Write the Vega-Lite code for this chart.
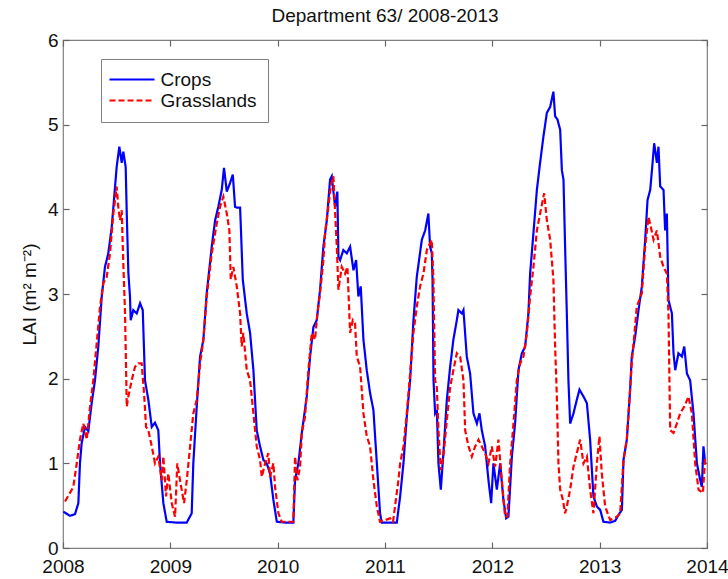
{
  "$schema": "https://vega.github.io/schema/vega-lite/v6.json",
  "width": 644,
  "height": 508,
  "autosize": "none",
  "padding": {"left": 63, "top": 40, "right": 21, "bottom": 31},
  "background": "white",
  "title": {"text": "Department 63/ 2008-2013", "fontSize": 19, "fontWeight": "normal", "font": "Liberation Sans", "color": "#111", "anchor": "middle", "offset": 5},
  "config": {
    "view": {"stroke": "#808080", "strokeWidth": 1.2},
    "axis": {"domain": false, "grid": false, "labelFont": "Liberation Sans", "labelFontSize": 19, "labelColor": "#111", "titleFont": "Liberation Sans", "titleFontSize": 19, "titleFontWeight": "normal", "titleColor": "#111"},
    "legend": {"labelFont": "Liberation Sans", "labelFontSize": 19, "labelColor": "#111"}
  },
  "data": {"values": [
    {"t":2008.003,"v":0.43,"s":"Crops"},{"t":2008.065,"v":0.38,"s":"Crops"},{"t":2008.112,"v":0.40,"s":"Crops"},{"t":2008.143,"v":0.53,"s":"Crops"},{"t":2008.158,"v":1.0,"s":"Crops"},{"t":2008.174,"v":1.24,"s":"Crops"},{"t":2008.205,"v":1.43,"s":"Crops"},{"t":2008.236,"v":1.38,"s":"Crops"},{"t":2008.267,"v":1.71,"s":"Crops"},{"t":2008.298,"v":1.98,"s":"Crops"},{"t":2008.329,"v":2.38,"s":"Crops"},{"t":2008.361,"v":2.97,"s":"Crops"},{"t":2008.391,"v":3.32,"s":"Crops"},{"t":2008.422,"v":3.48,"s":"Crops"},{"t":2008.454,"v":3.79,"s":"Crops"},{"t":2008.485,"v":4.27,"s":"Crops"},{"t":2008.500,"v":4.50,"s":"Crops"},{"t":2008.525,"v":4.74,"s":"Crops"},{"t":2008.547,"v":4.55,"s":"Crops"},{"t":2008.562,"v":4.68,"s":"Crops"},{"t":2008.584,"v":4.50,"s":"Crops"},{"t":2008.594,"v":3.95,"s":"Crops"},{"t":2008.609,"v":3.25,"s":"Crops"},{"t":2008.624,"v":2.97,"s":"Crops"},{"t":2008.631,"v":2.69,"s":"Crops"},{"t":2008.655,"v":2.81,"s":"Crops"},{"t":2008.687,"v":2.77,"s":"Crops"},{"t":2008.718,"v":2.89,"s":"Crops"},{"t":2008.743,"v":2.81,"s":"Crops"},{"t":2008.764,"v":1.98,"s":"Crops"},{"t":2008.795,"v":1.75,"s":"Crops"},{"t":2008.827,"v":1.43,"s":"Crops"},{"t":2008.857,"v":1.48,"s":"Crops"},{"t":2008.888,"v":1.39,"s":"Crops"},{"t":2008.904,"v":1.0,"s":"Crops"},{"t":2008.935,"v":0.53,"s":"Crops"},{"t":2008.966,"v":0.31,"s":"Crops"},{"t":2009.053,"v":0.30,"s":"Crops"},{"t":2009.153,"v":0.30,"s":"Crops"},{"t":2009.199,"v":0.41,"s":"Crops"},{"t":2009.214,"v":1.0,"s":"Crops"},{"t":2009.246,"v":1.67,"s":"Crops"},{"t":2009.277,"v":2.26,"s":"Crops"},{"t":2009.308,"v":2.46,"s":"Crops"},{"t":2009.339,"v":3.01,"s":"Crops"},{"t":2009.386,"v":3.56,"s":"Crops"},{"t":2009.417,"v":3.87,"s":"Crops"},{"t":2009.447,"v":4.03,"s":"Crops"},{"t":2009.479,"v":4.23,"s":"Crops"},{"t":2009.500,"v":4.49,"s":"Crops"},{"t":2009.526,"v":4.21,"s":"Crops"},{"t":2009.556,"v":4.31,"s":"Crops"},{"t":2009.582,"v":4.41,"s":"Crops"},{"t":2009.603,"v":4.03,"s":"Crops"},{"t":2009.619,"v":4.02,"s":"Crops"},{"t":2009.650,"v":4.02,"s":"Crops"},{"t":2009.657,"v":3.79,"s":"Crops"},{"t":2009.675,"v":3.17,"s":"Crops"},{"t":2009.712,"v":2.77,"s":"Crops"},{"t":2009.743,"v":2.54,"s":"Crops"},{"t":2009.774,"v":2.10,"s":"Crops"},{"t":2009.805,"v":1.39,"s":"Crops"},{"t":2009.836,"v":1.20,"s":"Crops"},{"t":2009.867,"v":1.04,"s":"Crops"},{"t":2009.898,"v":1.0,"s":"Crops"},{"t":2009.929,"v":0.88,"s":"Crops"},{"t":2009.960,"v":0.57,"s":"Crops"},{"t":2009.992,"v":0.31,"s":"Crops"},{"t":2010.069,"v":0.30,"s":"Crops"},{"t":2010.146,"v":0.30,"s":"Crops"},{"t":2010.162,"v":0.80,"s":"Crops"},{"t":2010.193,"v":1.0,"s":"Crops"},{"t":2010.225,"v":1.36,"s":"Crops"},{"t":2010.271,"v":1.79,"s":"Crops"},{"t":2010.302,"v":2.26,"s":"Crops"},{"t":2010.333,"v":2.61,"s":"Crops"},{"t":2010.364,"v":2.69,"s":"Crops"},{"t":2010.395,"v":3.05,"s":"Crops"},{"t":2010.426,"v":3.56,"s":"Crops"},{"t":2010.458,"v":3.87,"s":"Crops"},{"t":2010.488,"v":4.35,"s":"Crops"},{"t":2010.504,"v":4.39,"s":"Crops"},{"t":2010.535,"v":4.03,"s":"Crops"},{"t":2010.556,"v":4.21,"s":"Crops"},{"t":2010.566,"v":3.44,"s":"Crops"},{"t":2010.582,"v":3.40,"s":"Crops"},{"t":2010.612,"v":3.52,"s":"Crops"},{"t":2010.644,"v":3.48,"s":"Crops"},{"t":2010.675,"v":3.56,"s":"Crops"},{"t":2010.706,"v":3.28,"s":"Crops"},{"t":2010.731,"v":3.40,"s":"Crops"},{"t":2010.752,"v":2.97,"s":"Crops"},{"t":2010.774,"v":3.09,"s":"Crops"},{"t":2010.799,"v":2.46,"s":"Crops"},{"t":2010.830,"v":2.10,"s":"Crops"},{"t":2010.861,"v":1.83,"s":"Crops"},{"t":2010.892,"v":1.63,"s":"Crops"},{"t":2010.924,"v":1.0,"s":"Crops"},{"t":2010.954,"v":0.41,"s":"Crops"},{"t":2010.970,"v":0.30,"s":"Crops"},{"t":2011.048,"v":0.30,"s":"Crops"},{"t":2011.110,"v":0.30,"s":"Crops"},{"t":2011.141,"v":0.61,"s":"Crops"},{"t":2011.172,"v":1.0,"s":"Crops"},{"t":2011.203,"v":1.55,"s":"Crops"},{"t":2011.234,"v":1.98,"s":"Crops"},{"t":2011.265,"v":2.69,"s":"Crops"},{"t":2011.296,"v":3.20,"s":"Crops"},{"t":2011.343,"v":3.64,"s":"Crops"},{"t":2011.374,"v":3.75,"s":"Crops"},{"t":2011.404,"v":3.95,"s":"Crops"},{"t":2011.420,"v":3.56,"s":"Crops"},{"t":2011.436,"v":3.48,"s":"Crops"},{"t":2011.443,"v":3.17,"s":"Crops"},{"t":2011.452,"v":1.98,"s":"Crops"},{"t":2011.467,"v":1.59,"s":"Crops"},{"t":2011.483,"v":1.63,"s":"Crops"},{"t":2011.498,"v":1.0,"s":"Crops"},{"t":2011.520,"v":0.69,"s":"Crops"},{"t":2011.544,"v":1.12,"s":"Crops"},{"t":2011.576,"v":1.75,"s":"Crops"},{"t":2011.607,"v":2.14,"s":"Crops"},{"t":2011.637,"v":2.46,"s":"Crops"},{"t":2011.669,"v":2.69,"s":"Crops"},{"t":2011.684,"v":2.81,"s":"Crops"},{"t":2011.716,"v":2.77,"s":"Crops"},{"t":2011.731,"v":2.81,"s":"Crops"},{"t":2011.762,"v":2.26,"s":"Crops"},{"t":2011.793,"v":2.06,"s":"Crops"},{"t":2011.824,"v":1.59,"s":"Crops"},{"t":2011.856,"v":1.47,"s":"Crops"},{"t":2011.880,"v":1.59,"s":"Crops"},{"t":2011.902,"v":1.39,"s":"Crops"},{"t":2011.933,"v":1.20,"s":"Crops"},{"t":2011.964,"v":0.80,"s":"Crops"},{"t":2011.989,"v":0.53,"s":"Crops"},{"t":2012.010,"v":1.0,"s":"Crops"},{"t":2012.042,"v":0.69,"s":"Crops"},{"t":2012.073,"v":1.0,"s":"Crops"},{"t":2012.103,"v":0.57,"s":"Crops"},{"t":2012.129,"v":0.35,"s":"Crops"},{"t":2012.150,"v":0.37,"s":"Crops"},{"t":2012.182,"v":1.08,"s":"Crops"},{"t":2012.212,"v":1.47,"s":"Crops"},{"t":2012.243,"v":2.10,"s":"Crops"},{"t":2012.275,"v":2.30,"s":"Crops"},{"t":2012.306,"v":2.38,"s":"Crops"},{"t":2012.336,"v":2.77,"s":"Crops"},{"t":2012.352,"v":3.24,"s":"Crops"},{"t":2012.383,"v":3.72,"s":"Crops"},{"t":2012.415,"v":4.23,"s":"Crops"},{"t":2012.445,"v":4.55,"s":"Crops"},{"t":2012.476,"v":4.86,"s":"Crops"},{"t":2012.508,"v":5.14,"s":"Crops"},{"t":2012.539,"v":5.21,"s":"Crops"},{"t":2012.569,"v":5.39,"s":"Crops"},{"t":2012.585,"v":5.10,"s":"Crops"},{"t":2012.607,"v":5.06,"s":"Crops"},{"t":2012.632,"v":4.94,"s":"Crops"},{"t":2012.648,"v":4.46,"s":"Crops"},{"t":2012.663,"v":4.35,"s":"Crops"},{"t":2012.678,"v":3.56,"s":"Crops"},{"t":2012.694,"v":2.77,"s":"Crops"},{"t":2012.709,"v":1.98,"s":"Crops"},{"t":2012.725,"v":1.47,"s":"Crops"},{"t":2012.756,"v":1.59,"s":"Crops"},{"t":2012.787,"v":1.75,"s":"Crops"},{"t":2012.812,"v":1.87,"s":"Crops"},{"t":2012.849,"v":1.79,"s":"Crops"},{"t":2012.881,"v":1.71,"s":"Crops"},{"t":2012.911,"v":1.28,"s":"Crops"},{"t":2012.942,"v":0.61,"s":"Crops"},{"t":2012.974,"v":0.49,"s":"Crops"},{"t":2013.005,"v":0.45,"s":"Crops"},{"t":2013.035,"v":0.31,"s":"Crops"},{"t":2013.098,"v":0.30,"s":"Crops"},{"t":2013.144,"v":0.32,"s":"Crops"},{"t":2013.175,"v":0.39,"s":"Crops"},{"t":2013.207,"v":0.45,"s":"Crops"},{"t":2013.222,"v":1.04,"s":"Crops"},{"t":2013.253,"v":1.28,"s":"Crops"},{"t":2013.284,"v":1.87,"s":"Crops"},{"t":2013.299,"v":2.26,"s":"Crops"},{"t":2013.331,"v":2.50,"s":"Crops"},{"t":2013.362,"v":2.81,"s":"Crops"},{"t":2013.393,"v":3.09,"s":"Crops"},{"t":2013.424,"v":3.64,"s":"Crops"},{"t":2013.446,"v":4.11,"s":"Crops"},{"t":2013.471,"v":4.23,"s":"Crops"},{"t":2013.487,"v":4.46,"s":"Crops"},{"t":2013.508,"v":4.78,"s":"Crops"},{"t":2013.533,"v":4.55,"s":"Crops"},{"t":2013.548,"v":4.74,"s":"Crops"},{"t":2013.564,"v":4.27,"s":"Crops"},{"t":2013.595,"v":4.23,"s":"Crops"},{"t":2013.610,"v":3.75,"s":"Crops"},{"t":2013.626,"v":3.95,"s":"Crops"},{"t":2013.641,"v":2.93,"s":"Crops"},{"t":2013.673,"v":2.77,"s":"Crops"},{"t":2013.688,"v":2.30,"s":"Crops"},{"t":2013.704,"v":2.10,"s":"Crops"},{"t":2013.734,"v":2.30,"s":"Crops"},{"t":2013.766,"v":2.26,"s":"Crops"},{"t":2013.788,"v":2.38,"s":"Crops"},{"t":2013.813,"v":2.06,"s":"Crops"},{"t":2013.843,"v":1.98,"s":"Crops"},{"t":2013.874,"v":1.59,"s":"Crops"},{"t":2013.906,"v":1.0,"s":"Crops"},{"t":2013.937,"v":0.80,"s":"Crops"},{"t":2013.952,"v":0.72,"s":"Crops"},{"t":2013.967,"v":1.20,"s":"Crops"},{"t":2013.983,"v":1.0,"s":"Crops"},
    {"t":2008.019,"v":0.55,"s":"Grasslands"},{"t":2008.096,"v":0.72,"s":"Grasslands"},{"t":2008.128,"v":1.0,"s":"Grasslands"},{"t":2008.158,"v":1.28,"s":"Grasslands"},{"t":2008.189,"v":1.47,"s":"Grasslands"},{"t":2008.221,"v":1.28,"s":"Grasslands"},{"t":2008.252,"v":1.67,"s":"Grasslands"},{"t":2008.282,"v":1.98,"s":"Grasslands"},{"t":2008.314,"v":2.42,"s":"Grasslands"},{"t":2008.345,"v":2.85,"s":"Grasslands"},{"t":2008.376,"v":3.13,"s":"Grasslands"},{"t":2008.407,"v":3.20,"s":"Grasslands"},{"t":2008.438,"v":3.48,"s":"Grasslands"},{"t":2008.469,"v":3.95,"s":"Grasslands"},{"t":2008.485,"v":4.11,"s":"Grasslands"},{"t":2008.500,"v":4.27,"s":"Grasslands"},{"t":2008.515,"v":4.03,"s":"Grasslands"},{"t":2008.531,"v":3.87,"s":"Grasslands"},{"t":2008.547,"v":3.99,"s":"Grasslands"},{"t":2008.562,"v":3.36,"s":"Grasslands"},{"t":2008.578,"v":2.77,"s":"Grasslands"},{"t":2008.594,"v":1.67,"s":"Grasslands"},{"t":2008.609,"v":1.79,"s":"Grasslands"},{"t":2008.640,"v":1.98,"s":"Grasslands"},{"t":2008.671,"v":2.14,"s":"Grasslands"},{"t":2008.702,"v":2.18,"s":"Grasslands"},{"t":2008.733,"v":2.18,"s":"Grasslands"},{"t":2008.755,"v":1.83,"s":"Grasslands"},{"t":2008.774,"v":1.43,"s":"Grasslands"},{"t":2008.795,"v":1.39,"s":"Grasslands"},{"t":2008.827,"v":1.20,"s":"Grasslands"},{"t":2008.857,"v":1.0,"s":"Grasslands"},{"t":2008.888,"v":1.08,"s":"Grasslands"},{"t":2008.920,"v":0.80,"s":"Grasslands"},{"t":2008.935,"v":1.08,"s":"Grasslands"},{"t":2008.960,"v":0.61,"s":"Grasslands"},{"t":2008.981,"v":0.88,"s":"Grasslands"},{"t":2009.013,"v":0.53,"s":"Grasslands"},{"t":2009.044,"v":0.37,"s":"Grasslands"},{"t":2009.065,"v":1.0,"s":"Grasslands"},{"t":2009.090,"v":0.80,"s":"Grasslands"},{"t":2009.128,"v":0.53,"s":"Grasslands"},{"t":2009.153,"v":0.80,"s":"Grasslands"},{"t":2009.184,"v":1.20,"s":"Grasslands"},{"t":2009.214,"v":1.59,"s":"Grasslands"},{"t":2009.246,"v":1.75,"s":"Grasslands"},{"t":2009.277,"v":2.18,"s":"Grasslands"},{"t":2009.308,"v":2.46,"s":"Grasslands"},{"t":2009.339,"v":2.97,"s":"Grasslands"},{"t":2009.386,"v":3.48,"s":"Grasslands"},{"t":2009.432,"v":3.83,"s":"Grasslands"},{"t":2009.463,"v":4.03,"s":"Grasslands"},{"t":2009.494,"v":4.15,"s":"Grasslands"},{"t":2009.526,"v":3.95,"s":"Grasslands"},{"t":2009.550,"v":3.75,"s":"Grasslands"},{"t":2009.563,"v":3.17,"s":"Grasslands"},{"t":2009.587,"v":3.32,"s":"Grasslands"},{"t":2009.619,"v":3.09,"s":"Grasslands"},{"t":2009.650,"v":2.77,"s":"Grasslands"},{"t":2009.665,"v":2.38,"s":"Grasslands"},{"t":2009.680,"v":2.54,"s":"Grasslands"},{"t":2009.712,"v":2.10,"s":"Grasslands"},{"t":2009.743,"v":1.98,"s":"Grasslands"},{"t":2009.774,"v":1.59,"s":"Grasslands"},{"t":2009.805,"v":1.20,"s":"Grasslands"},{"t":2009.836,"v":1.04,"s":"Grasslands"},{"t":2009.852,"v":0.84,"s":"Grasslands"},{"t":2009.883,"v":1.0,"s":"Grasslands"},{"t":2009.913,"v":1.12,"s":"Grasslands"},{"t":2009.929,"v":0.84,"s":"Grasslands"},{"t":2009.960,"v":1.0,"s":"Grasslands"},{"t":2009.976,"v":0.72,"s":"Grasslands"},{"t":2010.007,"v":0.41,"s":"Grasslands"},{"t":2010.038,"v":0.31,"s":"Grasslands"},{"t":2010.146,"v":0.31,"s":"Grasslands"},{"t":2010.162,"v":1.08,"s":"Grasslands"},{"t":2010.184,"v":0.80,"s":"Grasslands"},{"t":2010.209,"v":0.96,"s":"Grasslands"},{"t":2010.225,"v":1.36,"s":"Grasslands"},{"t":2010.255,"v":1.55,"s":"Grasslands"},{"t":2010.286,"v":2.10,"s":"Grasslands"},{"t":2010.318,"v":2.54,"s":"Grasslands"},{"t":2010.348,"v":2.46,"s":"Grasslands"},{"t":2010.370,"v":2.77,"s":"Grasslands"},{"t":2010.395,"v":3.01,"s":"Grasslands"},{"t":2010.426,"v":3.40,"s":"Grasslands"},{"t":2010.442,"v":3.72,"s":"Grasslands"},{"t":2010.472,"v":4.03,"s":"Grasslands"},{"t":2010.495,"v":4.27,"s":"Grasslands"},{"t":2010.519,"v":4.39,"s":"Grasslands"},{"t":2010.551,"v":3.56,"s":"Grasslands"},{"t":2010.566,"v":3.05,"s":"Grasslands"},{"t":2010.597,"v":3.32,"s":"Grasslands"},{"t":2010.628,"v":3.24,"s":"Grasslands"},{"t":2010.650,"v":3.32,"s":"Grasslands"},{"t":2010.675,"v":2.54,"s":"Grasslands"},{"t":2010.700,"v":2.69,"s":"Grasslands"},{"t":2010.721,"v":2.65,"s":"Grasslands"},{"t":2010.737,"v":2.26,"s":"Grasslands"},{"t":2010.768,"v":2.14,"s":"Grasslands"},{"t":2010.799,"v":1.59,"s":"Grasslands"},{"t":2010.830,"v":1.32,"s":"Grasslands"},{"t":2010.861,"v":1.20,"s":"Grasslands"},{"t":2010.892,"v":0.80,"s":"Grasslands"},{"t":2010.924,"v":0.49,"s":"Grasslands"},{"t":2010.954,"v":0.31,"s":"Grasslands"},{"t":2011.048,"v":0.35,"s":"Grasslands"},{"t":2011.075,"v":0.31,"s":"Grasslands"},{"t":2011.125,"v":0.80,"s":"Grasslands"},{"t":2011.141,"v":1.0,"s":"Grasslands"},{"t":2011.172,"v":1.20,"s":"Grasslands"},{"t":2011.203,"v":1.59,"s":"Grasslands"},{"t":2011.234,"v":2.06,"s":"Grasslands"},{"t":2011.265,"v":2.54,"s":"Grasslands"},{"t":2011.296,"v":2.85,"s":"Grasslands"},{"t":2011.327,"v":3.09,"s":"Grasslands"},{"t":2011.358,"v":3.24,"s":"Grasslands"},{"t":2011.390,"v":3.52,"s":"Grasslands"},{"t":2011.404,"v":3.56,"s":"Grasslands"},{"t":2011.436,"v":3.64,"s":"Grasslands"},{"t":2011.451,"v":3.17,"s":"Grasslands"},{"t":2011.467,"v":1.98,"s":"Grasslands"},{"t":2011.483,"v":1.90,"s":"Grasslands"},{"t":2011.498,"v":1.39,"s":"Grasslands"},{"t":2011.520,"v":0.92,"s":"Grasslands"},{"t":2011.544,"v":1.08,"s":"Grasslands"},{"t":2011.576,"v":1.51,"s":"Grasslands"},{"t":2011.607,"v":1.90,"s":"Grasslands"},{"t":2011.637,"v":2.10,"s":"Grasslands"},{"t":2011.669,"v":2.30,"s":"Grasslands"},{"t":2011.700,"v":2.26,"s":"Grasslands"},{"t":2011.731,"v":1.98,"s":"Grasslands"},{"t":2011.747,"v":1.39,"s":"Grasslands"},{"t":2011.778,"v":1.20,"s":"Grasslands"},{"t":2011.809,"v":1.08,"s":"Grasslands"},{"t":2011.840,"v":1.20,"s":"Grasslands"},{"t":2011.871,"v":1.28,"s":"Grasslands"},{"t":2011.902,"v":1.20,"s":"Grasslands"},{"t":2011.933,"v":1.12,"s":"Grasslands"},{"t":2011.964,"v":1.0,"s":"Grasslands"},{"t":2011.995,"v":1.20,"s":"Grasslands"},{"t":2012.026,"v":0.96,"s":"Grasslands"},{"t":2012.057,"v":1.28,"s":"Grasslands"},{"t":2012.088,"v":0.80,"s":"Grasslands"},{"t":2012.119,"v":0.37,"s":"Grasslands"},{"t":2012.140,"v":0.37,"s":"Grasslands"},{"t":2012.166,"v":1.0,"s":"Grasslands"},{"t":2012.197,"v":1.47,"s":"Grasslands"},{"t":2012.228,"v":1.98,"s":"Grasslands"},{"t":2012.259,"v":2.18,"s":"Grasslands"},{"t":2012.290,"v":2.26,"s":"Grasslands"},{"t":2012.322,"v":2.54,"s":"Grasslands"},{"t":2012.352,"v":2.97,"s":"Grasslands"},{"t":2012.383,"v":3.32,"s":"Grasslands"},{"t":2012.415,"v":3.75,"s":"Grasslands"},{"t":2012.445,"v":3.95,"s":"Grasslands"},{"t":2012.483,"v":4.19,"s":"Grasslands"},{"t":2012.508,"v":3.87,"s":"Grasslands"},{"t":2012.539,"v":3.64,"s":"Grasslands"},{"t":2012.569,"v":3.17,"s":"Grasslands"},{"t":2012.585,"v":2.38,"s":"Grasslands"},{"t":2012.601,"v":1.79,"s":"Grasslands"},{"t":2012.616,"v":1.0,"s":"Grasslands"},{"t":2012.632,"v":0.69,"s":"Grasslands"},{"t":2012.657,"v":0.57,"s":"Grasslands"},{"t":2012.678,"v":0.41,"s":"Grasslands"},{"t":2012.694,"v":0.49,"s":"Grasslands"},{"t":2012.725,"v":0.69,"s":"Grasslands"},{"t":2012.756,"v":0.96,"s":"Grasslands"},{"t":2012.787,"v":1.12,"s":"Grasslands"},{"t":2012.818,"v":1.28,"s":"Grasslands"},{"t":2012.849,"v":1.0,"s":"Grasslands"},{"t":2012.881,"v":1.08,"s":"Grasslands"},{"t":2012.911,"v":0.69,"s":"Grasslands"},{"t":2012.942,"v":0.41,"s":"Grasslands"},{"t":2012.974,"v":1.0,"s":"Grasslands"},{"t":2012.998,"v":1.32,"s":"Grasslands"},{"t":2013.020,"v":0.88,"s":"Grasslands"},{"t":2013.051,"v":0.49,"s":"Grasslands"},{"t":2013.098,"v":0.33,"s":"Grasslands"},{"t":2013.160,"v":0.37,"s":"Grasslands"},{"t":2013.191,"v":0.41,"s":"Grasslands"},{"t":2013.222,"v":1.04,"s":"Grasslands"},{"t":2013.253,"v":1.28,"s":"Grasslands"},{"t":2013.299,"v":2.18,"s":"Grasslands"},{"t":2013.346,"v":2.85,"s":"Grasslands"},{"t":2013.393,"v":3.01,"s":"Grasslands"},{"t":2013.424,"v":3.56,"s":"Grasslands"},{"t":2013.455,"v":3.91,"s":"Grasslands"},{"t":2013.477,"v":3.79,"s":"Grasslands"},{"t":2013.502,"v":3.64,"s":"Grasslands"},{"t":2013.533,"v":3.75,"s":"Grasslands"},{"t":2013.564,"v":3.44,"s":"Grasslands"},{"t":2013.595,"v":3.32,"s":"Grasslands"},{"t":2013.626,"v":3.24,"s":"Grasslands"},{"t":2013.641,"v":2.77,"s":"Grasslands"},{"t":2013.657,"v":1.39,"s":"Grasslands"},{"t":2013.688,"v":1.36,"s":"Grasslands"},{"t":2013.719,"v":1.47,"s":"Grasslands"},{"t":2013.750,"v":1.59,"s":"Grasslands"},{"t":2013.788,"v":1.67,"s":"Grasslands"},{"t":2013.828,"v":1.79,"s":"Grasslands"},{"t":2013.859,"v":1.59,"s":"Grasslands"},{"t":2013.890,"v":1.0,"s":"Grasslands"},{"t":2013.921,"v":0.69,"s":"Grasslands"},{"t":2013.962,"v":0.65,"s":"Grasslands"},{"t":2013.983,"v":1.08,"s":"Grasslands"}
  ]},
  "layer": [
    {
      "mark": {"type": "line", "strokeWidth": 2.2, "clip": true},
      "encoding": {
        "x": {"field": "t", "type": "quantitative", "scale": {"domain": [2008, 2014], "nice": false, "zero": false}, "axis": {"orient": "bottom", "values": [2008, 2009, 2010, 2011, 2012, 2013, 2014], "format": "d", "title": null, "ticks": true, "tickSize": -6, "tickColor": "#666666", "tickWidth": 1.2, "tickOpacity": 1, "labelPadding": 15, "labelFlush": false}},
        "y": {"field": "v", "type": "quantitative", "scale": {"domain": [0, 6], "nice": false}, "axis": {"orient": "left", "values": [0, 1, 2, 3, 4, 5, 6], "title": "LAI  (m² m⁻²)", "ticks": true, "tickSize": -6, "tickColor": "#666666", "tickWidth": 1.2, "tickOpacity": 1, "labelPadding": 11, "titlePadding": 8}},
        "color": {"field": "s", "type": "nominal", "scale": {"domain": ["Crops", "Grasslands"], "range": ["#0000ff", "#ff0000"]}, "legend": {"orient": "none", "legendX": 38, "legendY": 19, "title": null, "symbolType": "M-4.5,0H4.5", "symbolSize": 100, "symbolOffset": 10.5, "symbolStrokeWidth": 2, "labelOffset": 19, "padding": 11, "rowPadding": 1, "strokeColor": "#808080", "fillColor": "white"}},
        "strokeDash": {"field": "s", "type": "nominal", "scale": {"domain": ["Crops", "Grasslands"], "range": [[1, 0], [6, 3]]}, "legend": {"orient": "none", "legendX": 38, "legendY": 19, "title": null}},
        "order": {"field": "t", "type": "quantitative"}
      }
    },
    {
      "mark": {"type": "line", "strokeOpacity": 0},
      "encoding": {
        "x": {"field": "t", "type": "quantitative", "scale": {"domain": [2008, 2014], "nice": false, "zero": false}, "axis": {"orient": "top", "values": [2008, 2009, 2010, 2011, 2012, 2013, 2014], "labels": false, "title": null, "ticks": true, "tickSize": -6, "tickColor": "#666666", "tickWidth": 1.2, "tickOpacity": 1}},
        "y": {"field": "v", "type": "quantitative", "scale": {"domain": [0, 6], "nice": false}, "axis": {"orient": "right", "values": [0, 1, 2, 3, 4, 5, 6], "labels": false, "title": null, "ticks": true, "tickSize": -6, "tickColor": "#666666", "tickWidth": 1.2, "tickOpacity": 1}},
        "detail": {"field": "s", "type": "nominal"}
      }
    }
  ],
  "resolve": {"axis": {"x": "independent", "y": "independent"}}
}
